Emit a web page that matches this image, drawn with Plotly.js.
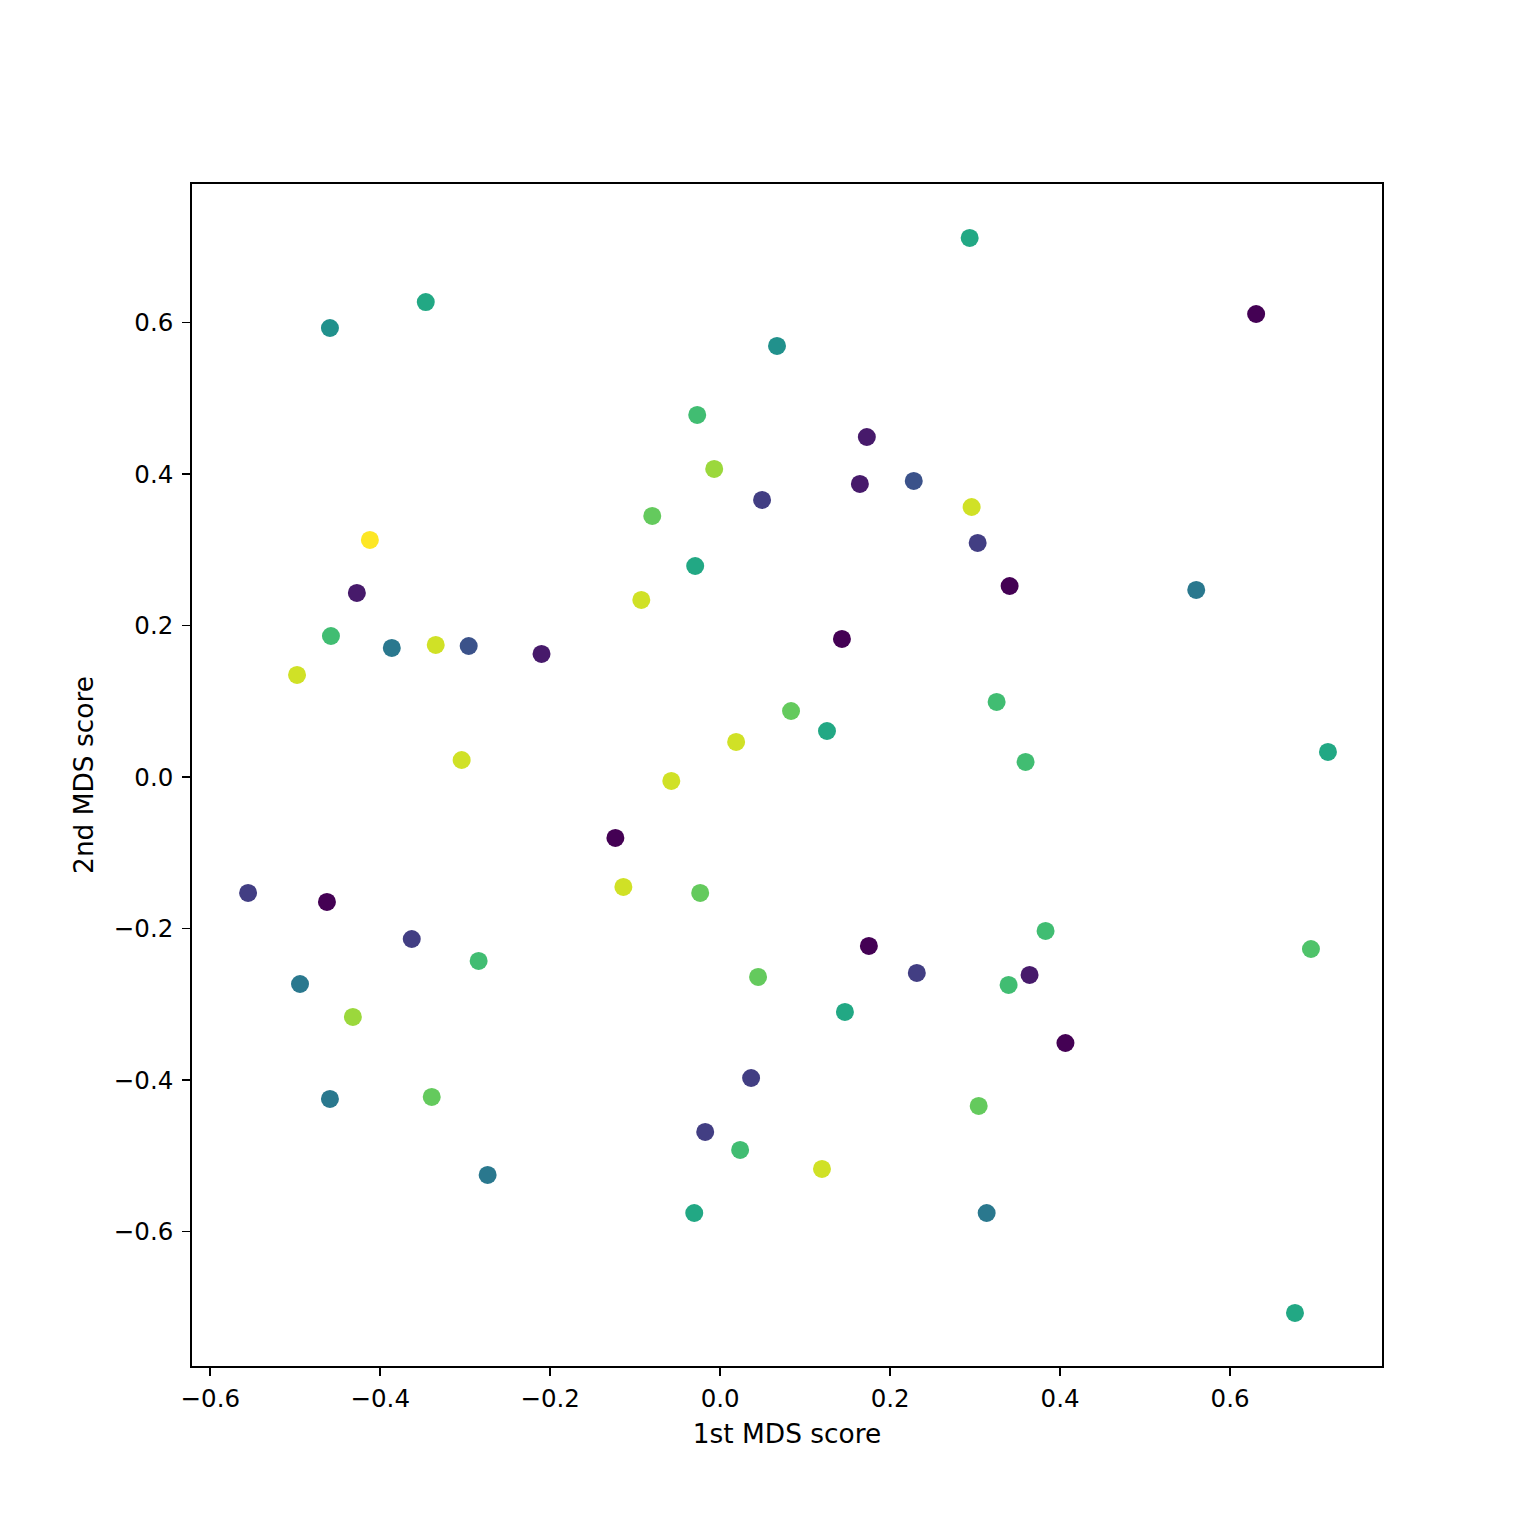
<!DOCTYPE html>
<html>
<head>
<meta charset="utf-8">
<script src="https://cdn.plot.ly/plotly-3.0.1.min.js"></script>
<style>html,body{margin:0;padding:0;background:#fff;}</style>
</head>
<body>
<div id="chart" style="width:1536px;height:1536px;"></div>
<script>
const mds1 = [0.2936,0.6307,-0.3464,-0.4592,0.0669,-0.027,0.1726,-0.007,0.2278,0.1644,0.0493,0.2959,-0.0799,-0.4122,0.303,0.3406,-0.0294,0.5602,-0.4275,-0.0928,-0.458,-0.3864,-0.3347,-0.2959,-0.2102,0.1433,-0.4979,0.3253,0.0834,0.1257,0.0188,0.7152,-0.3042,0.3594,-0.0575,-0.1233,-0.1139,-0.0235,-0.5555,-0.4627,-0.3629,0.175,0.3829,0.6952,-0.2842,0.2314,0.3641,0.0446,-0.4944,0.3394,-0.4322,0.1468,0.4063,0.0364,-0.4592,-0.3394,0.3042,-0.0176,0.0235,0.1198,-0.2736,-0.0305,0.3136,0.6764];
const mds2 = [0.7116,0.6112,0.627,0.5927,0.569,0.4779,0.4488,0.4066,0.3908,0.3868,0.3657,0.3564,0.3446,0.3129,0.3089,0.2521,0.2785,0.2469,0.2429,0.2337,0.1861,0.1703,0.1743,0.1729,0.1624,0.1822,0.1347,0.099,0.0871,0.0607,0.0462,0.033,0.0224,0.0198,-0.0053,-0.0805,-0.1452,-0.1531,-0.1531,-0.165,-0.2139,-0.2231,-0.2033,-0.2271,-0.2429,-0.2587,-0.2614,-0.264,-0.2733,-0.2746,-0.3168,-0.3102,-0.3512,-0.3974,-0.4251,-0.4224,-0.4343,-0.4686,-0.4924,-0.5175,-0.5254,-0.5756,-0.5756,-0.7076];
const colorValue = [0.6,0.0,0.6,0.5,0.5,0.69,0.07,0.85,0.25,0.07,0.18,0.93,0.76,1.0,0.18,0.0,0.6,0.4,0.07,0.93,0.69,0.4,0.93,0.25,0.07,0.0,0.93,0.69,0.76,0.6,0.93,0.6,0.93,0.69,0.93,0.0,0.93,0.76,0.18,0.0,0.18,0.0,0.69,0.72,0.69,0.18,0.07,0.76,0.4,0.69,0.85,0.6,0.0,0.18,0.4,0.76,0.76,0.18,0.69,0.93,0.4,0.6,0.4,0.6];

const viridis = [[0,'#440154'],[0.1,'#482475'],[0.2,'#414487'],[0.3,'#355f8d'],[0.4,'#2a788e'],[0.5,'#21918c'],[0.6,'#22a884'],[0.7,'#44bf70'],[0.8,'#7ad151'],[0.9,'#bddf26'],[1,'#fde725']];

const tickFont = {family: 'DejaVu Sans', size: 24.5, color: '#000'};
const titleFont = {family: 'DejaVu Sans', size: 26.4, color: '#000'};
const axisCommon = {
  showgrid: false, zeroline: false, showline: true, mirror: true,
  linecolor: '#000', linewidth: 1.8, ticks: 'outside', ticklen: 8, tickwidth: 1.8,
  tickcolor: '#000', tickfont: tickFont, dtick: 0.2, tick0: 0, tickformat: '.1f'
};

Plotly.newPlot('chart', [{
  type: 'scatter', mode: 'markers', x: mds1, y: mds2,
  marker: {size: 18, color: colorValue, colorscale: viridis, cmin: 0, cmax: 1, line: {width: 0}}
}], {
  width: 1536, height: 1536,
  margin: {l: 192, r: 154, t: 184, b: 170},
  paper_bgcolor: '#fff', plot_bgcolor: '#fff',
  showlegend: false, font: tickFont,
  xaxis: Object.assign({}, axisCommon, {range: [-0.6215, 0.7788], ticklabelstandoff: 2, title: {text: '1st MDS score', font: titleFont, standoff: 12}}),
  yaxis: Object.assign({}, axisCommon, {range: [-0.7776, 0.7828], ticklabelstandoff: 4, title: {text: '2nd MDS score', font: titleFont, standoff: 12}})
}, {displayModeBar: false, staticPlot: true});
</script>
</body>
</html>
